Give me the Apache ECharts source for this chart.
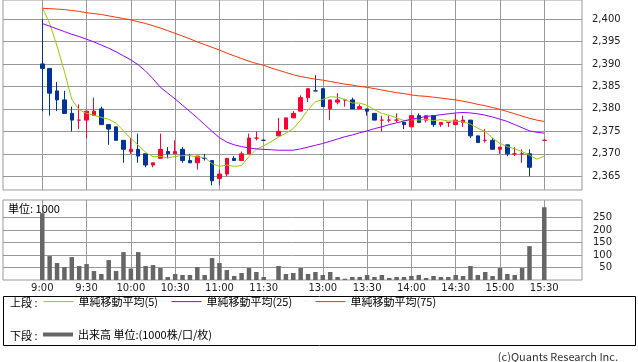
<!DOCTYPE html>
<html><head><meta charset="utf-8">
<script src="https://cdn.jsdelivr.net/npm/echarts@6/dist/echarts.min.js"></script>
<style>html,body{margin:0;padding:0;background:#fff}#c{width:638px;height:362px}</style>
</head><body><div id="c"></div>
<script>
const times = ['9:00','9:05','9:10','9:15','9:20','9:25','9:30','9:35','9:40','9:45','9:50','9:55',
'10:00','10:05','10:10','10:15','10:20','10:25','10:30','10:35','10:40','10:45','10:50','10:55',
'11:00','11:05','11:10','11:15','11:20','11:25','11:30','',
'12:30','12:35','12:40','12:45','12:50','12:55','13:00','13:05','13:10','13:15','13:20','13:25',
'13:30','13:35','13:40','13:45','13:50','13:55','14:00','14:05','14:10','14:15','14:20','14:25',
'14:30','14:35','14:40','14:45','14:50','14:55','15:00','15:05','15:10','15:15','15:20','15:25','15:30'];

const open  = [2390,2389,2384,2382,2379,2377.5,2377.5,2378.5,2380,2376.5,2376,2373,2370.5,2371,2370,2367.5,2369,2370.5,2370,2371,2368.5,2368,2369,2368.5,2364.5,2365.5,2369,2368.5,2370,2373.5,2373,null,
2374,2375.5,2378,2379.5,2382.5,2384,2384.5,2380,2381.5,2382,2382,2380,2380,2379,2377.5,2377.5,2377.5,2377,2376,2378.5,2377.5,2378.5,2376.5,2377,2376.5,2377,2377.5,2374,2373,2373,2371,2372,2370,2370,2370,null,2373];
const close = [2389,2383.5,2382,2379,2377.5,2377.5,2379.5,2379.5,2376.5,2375.5,2373,2371,2371,2369.5,2367.5,2368,2371,2370,2370.5,2368.5,2368,2369.5,2369,2364,2365.5,2369,2368.5,2370,2373.5,2373.5,2373,null,
2375,2378,2379,2382.5,2384.5,2384,2380.5,2382,2382,2382,2380,2380.5,2379.5,2377.5,2377.5,2377.5,2377.5,2376.5,2378.5,2377,2378.5,2376.5,2377,2377,2377.5,2377.5,2374,2372.5,2373,2371,2371.5,2370,2370,2370,2367,null,2373];
const low   = [2379.5,2378.5,2379.5,2379,2375,2375.5,2373.5,2378.5,2376.5,2372,2373,2368,2370,2368,2367,2367,2369,2369,2370,2368,2368,2366.5,2368.5,2363,2363,2365,2368.5,2368.5,2370,2373,2373,null,
2374,2375.5,2378,2379.5,2381.5,2384,2380.5,2377.5,2381,2380.5,2380,2380,2378.5,2377.5,2375,2377,2377,2375.5,2376,2377,2377,2376,2376,2376,2376.5,2376,2373.5,2372.5,2372.5,2371,2370,2369.5,2369.5,2368,2365,null,2373];
const high  = [2400,2389,2386,2384,2380.5,2381,2379.5,2382.5,2380.5,2376.5,2376,2373,2373.5,2374.5,2370,2368,2374.5,2371.5,2373,2371.5,2370,2369.5,2370,2368.5,2366.5,2369,2369.5,2370.5,2374.5,2375,2373.2,null,
2378,2378,2379.5,2383,2384.5,2387.5,2384.5,2382,2383.5,2382,2382.5,2381,2380,2379,2378.5,2378.5,2379,2377,2378.5,2379,2378.5,2378.5,2377,2377,2379,2378.5,2377.5,2374,2375.5,2373.5,2371.5,2372,2371.5,2371,2371,null,2373.2];
const volume = [268,96,68,52,92,56,64,36,24,80,36,112,46,112,56,60,48,12,24,20,20,52,20,88,68,40,16,28,48,32,12,null,
56,24,28,48,24,32,20,32,12,5,12,12,20,12,20,8,12,12,16,20,8,16,12,12,20,16,56,20,32,16,48,24,20,48,136,null,292];
const ma5  = [2402.6,2399.0,2394.0,2388.3,2382.1,2379.8,2379.0,2378.6,2378.1,2377.7,2376.8,2375.1,2373.4,2371.9,2370.3,2369.4,2369.4,2369.1,2369.4,2369.6,2369.6,2369.3,2369.2,2367.8,2367.2,2367.5,2367.2,2367.4,2369.4,2371.0,2371.8,2372.7,
2373.7,2374.6,2375.6,2377.5,2379.8,2381.6,2382.1,2382.7,2382.6,2382.1,2381.3,2381.3,2380.8,2379.8,2379.0,2378.6,2378.0,2377.4,2377.6,2377.5,2377.7,2377.4,2377.6,2377.3,2377.3,2377.1,2376.6,2375.7,2374.9,2373.5,2372.3,2371.6,2371.1,2370.5,2369.7,2368.8,2369.5];
const ma25 = [2399.0,2398.4,2397.8,2397.2,2396.6,2396.1,2395.5,2394.9,2394.2,2393.5,2392.7,2391.8,2390.9,2389.8,2388.4,2386.7,2384.8,2383.5,2382.2,2380.8,2379.4,2378.0,2376.5,2375.0,2373.6,2372.6,2372.0,2371.6,2371.3,2371.1,2371.0,2370.9,
2370.8,2370.8,2370.8,2371.1,2371.5,2371.9,2372.3,2372.8,2373.3,2373.8,2374.2,2374.7,2375.1,2375.6,2376.0,2376.5,2376.9,2377.3,2377.7,2378.0,2378.3,2378.5,2378.7,2378.9,2379.1,2379.2,2379.1,2378.9,2378.6,2378.2,2377.7,2377.2,2376.5,2375.8,2375.1,2374.8,2374.6];
const ma75 = [2402.4,2402.3,2402.2,2402.1,2401.9,2401.7,2401.4,2401.2,2401.0,2400.7,2400.4,2400.1,2399.8,2399.4,2399.0,2398.5,2398.0,2397.4,2396.8,2396.2,2395.6,2394.9,2394.3,2393.7,2393.1,2392.4,2391.8,2391.2,2390.6,2390.1,2389.7,2389.1,
2388.6,2388.1,2387.6,2387.2,2386.9,2386.6,2386.4,2386.1,2385.8,2385.5,2385.3,2385.0,2384.8,2384.5,2384.2,2383.9,2383.6,2383.4,2383.1,2382.9,2382.8,2382.6,2382.4,2382.2,2382.0,2381.7,2381.4,2381.0,2380.7,2380.3,2379.9,2379.4,2378.9,2378.4,2377.9,2377.5,2377.2];
const priceTicks = [2365,2370,2375,2380,2385,2390,2395,2400];
const volumeTicks = [50,100,150,200,250];
const timeTicks = ['9:00','9:30','10:00','10:30','11:00','11:30','13:00','13:30','14:00','14:30','15:00','15:30'];

const tickIdx = timeTicks.map(t => times.indexOf(t));
const candleData = [];
times.forEach((t, i) => { if (open[i] != null) candleData.push([i, open[i], close[i], low[i], high[i]]); });
const volData = [];
times.forEach((t, i) => { if (volume[i] != null) volData.push([i, volume[i]]); });
const toPts = arr => arr.map((v, i) => [i, v]);

const AX = 'DejaVu Sans';
const JP = '"Noto Sans CJK JP", sans-serif';
const GRID_COLOR = '#999';
const C5 = '#99cc00', C25 = '#9900ff', C75 = '#ff3300', CV = '#666666';

const chart = echarts.init(document.getElementById('c'), null, {renderer: 'canvas'});
const xCommon = {
  type: 'value', min: -5.32, max: 73.11,
  axisLine: {show: false},
  axisTick: {show: false, customValues: tickIdx},
  splitLine: {show: true, lineStyle: {color: GRID_COLOR, width: 1}}
};
const lineLegend = (name, color, left) => ({
  data: [name], left: left, top: 296, padding: 0, selectedMode: false,
  itemWidth: 30, itemHeight: 14,
  lineStyle: {color: color, width: 1, opacity: 1},
  itemStyle: {color: 'rgba(0,0,0,0)', borderColor: 'rgba(0,0,0,0)', borderWidth: 0},
  textStyle: {fontSize: 11, fontFamily: JP, color: '#000'}
});
chart.setOption({
  animation: false,
  backgroundColor: '#fff',
  grid: [
    {left: 3, top: 0, width: 579, height: 190, show: true, borderColor: GRID_COLOR, borderWidth: 1, backgroundColor: '#fff'},
    {left: 3, top: 200, width: 579, height: 80, show: true, borderColor: GRID_COLOR, borderWidth: 1, backgroundColor: '#fff'}
  ],
  xAxis: [
    Object.assign({}, xCommon, {gridIndex: 0, axisLabel: {show: false, customValues: tickIdx}}),
    Object.assign({}, xCommon, {gridIndex: 1, axisLabel: {show: true, customValues: tickIdx, margin: 3,
      fontSize: 10, fontFamily: AX, color: '#222', formatter: v => times[v]}})
  ],
  yAxis: [
    {type: 'value', gridIndex: 0, position: 'right', min: 2361.95, max: 2404.23,
     axisLine: {show: false}, axisTick: {show: false, customValues: priceTicks},
     axisLabel: {customValues: priceTicks, align: 'left', margin: 10, fontSize: 10, fontFamily: AX, color: '#222',
       formatter: v => v.toLocaleString('en-US')},
     splitLine: {show: true, lineStyle: {color: GRID_COLOR, width: 1}}},
    {type: 'value', gridIndex: 1, position: 'right', min: 0, max: 321,
     axisLine: {show: false}, axisTick: {show: false, customValues: volumeTicks},
     axisLabel: {customValues: volumeTicks, align: 'right', margin: 30, fontSize: 10, fontFamily: AX, color: '#222'},
     splitLine: {show: true, lineStyle: {color: GRID_COLOR, width: 1}}}
  ],
  legend: [
    lineLegend('単純移動平均(5)', C5, 43),
    lineLegend('単純移動平均(25)', C25, 171),
    lineLegend('単純移動平均(75)', C75, 315),
    {data: ['出来高 単位:(1000株/口/枚)'], left: 43, top: 329, padding: 0, selectedMode: false,
     icon: 'rect', itemWidth: 30, itemHeight: 4, itemStyle: {color: CV},
     textStyle: {fontSize: 11, fontFamily: JP, color: '#000'}}
  ],
  series: [
    {type: 'candlestick', name: '株価', xAxisIndex: 0, yAxisIndex: 0, data: candleData,
     encode: {x: 0, y: [1, 2, 3, 4]}, barWidth: 4,
     itemStyle: {color: '#ff0033', color0: '#003399', borderColor: '#ff0033', borderColor0: '#003399', borderWidth: 1}},
    {type: 'line', name: '単純移動平均(5)', xAxisIndex: 0, yAxisIndex: 0, data: toPts(ma5), symbol: 'none',
     color: C5, itemStyle: {color: C5}, lineStyle: {width: 1, color: C5}, z: 3},
    {type: 'line', name: '単純移動平均(25)', xAxisIndex: 0, yAxisIndex: 0, data: toPts(ma25), symbol: 'none',
     color: C25, itemStyle: {color: C25}, lineStyle: {width: 1, color: C25}, z: 3},
    {type: 'line', name: '単純移動平均(75)', xAxisIndex: 0, yAxisIndex: 0, data: toPts(ma75), symbol: 'none',
     color: C75, itemStyle: {color: C75}, lineStyle: {width: 1, color: C75}, z: 3},
    {type: 'bar', name: '出来高 単位:(1000株/口/枚)', xAxisIndex: 1, yAxisIndex: 1, data: volData,
     barWidth: 4.5, color: CV, itemStyle: {color: CV}}
  ],
  graphic: [
    {type: 'rect', shape: {x: 3.5, y: 296.5, width: 632, height: 49}, style: {fill: 'none', stroke: '#000', lineWidth: 1}, z: 1},
    {type: 'text', x: 10, y: 303, style: {text: '上段 :', font: '11px ' + JP, fill: '#000', textVerticalAlign: 'middle'}, z: 10},
    {type: 'text', x: 10, y: 336, style: {text: '下段 :', font: '11px ' + JP, fill: '#000', textVerticalAlign: 'middle'}, z: 10},
    {type: 'text', x: 8, y: 209, style: {text: '単位: 1000', font: '11px ' + JP, fill: '#000', textVerticalAlign: 'middle'}, z: 10},
    {type: 'text', x: 618, y: 357, style: {text: '(c)Quants Research Inc.', font: '11px ' + JP, fill: '#333', textAlign: 'right', textVerticalAlign: 'middle'}, z: 10}
  ]
});
</script></body></html>
